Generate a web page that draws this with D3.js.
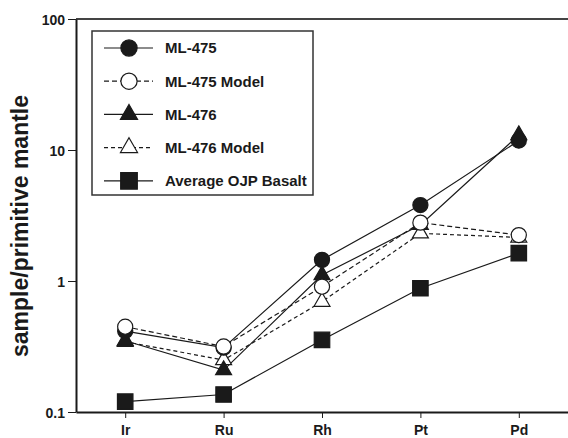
<!DOCTYPE html>
<html>
<head>
<meta charset="utf-8">
<script src="https://cdn.jsdelivr.net/npm/d3@7"></script>
<style>
  body { margin: 0; background: #fff; }
  text { font-family: "Liberation Sans", Arial, Helvetica, sans-serif; font-weight: bold; fill: #1a1a1a; }
</style>
</head>
<body>
<svg id="chart" width="568" height="438"></svg>
<script>
// elements (x categories)
var elements = ["Ir", "Ru", "Rh", "Pt", "Pd"];
// sample / primitive mantle values
var ml475      = [0.415, 0.31, 1.45, 3.8, 11.8];
var ml475Model = [0.448, 0.316, 0.905, 2.79, 2.24];
var ml476      = [0.35, 0.209, 1.11, 2.68, 13.0];
var ml476Model = [0.344, 0.249, 0.695, 2.31, 2.15];
var ojpBasalt  = [0.12, 0.136, 0.355, 0.88, 1.63];
var yTicks = [0.1, 1, 10, 100];

var series = [
    {name: "ML-475", values: ml475, shape: d3.symbolCircle, size: 180, fill: "#1a1a1a", dash: null},
    {name: "ML-475 Model", values: ml475Model, shape: d3.symbolCircle, size: 180, fill: "#fff", dash: "5,3"},
    {name: "ML-476", values: ml476, shape: d3.symbolTriangle, size: 110, fill: "#1a1a1a", dash: null},
    {name: "ML-476 Model", values: ml476Model, shape: d3.symbolTriangle, size: 110, fill: "#fff", dash: "4,3"},
    {name: "Average OJP Basalt", values: ojpBasalt, shape: d3.symbolSquare, size: 240, fill: "#1a1a1a", dash: null}
];
// drawing order of the marks (open circles end on top)
var drawOrder = [4, 3, 2, 0, 1];

var svg = d3.select("#chart");
var pLeft = 76, pRight = 568, pTop = 19, pBottom = 412;

var x = d3.scalePoint().domain(elements).range([pLeft, pRight]).padding(0.5);
var y = d3.scaleLog().domain([0.1, 100]).range([pBottom, pTop]);

// top frame line
svg.append("line")
    .attr("x1", pLeft).attr("x2", pRight)
    .attr("y1", pTop).attr("y2", pTop)
    .style("stroke", "#444").style("stroke-width", 2);

// axes
var yAxis = svg.append("g")
    .attr("transform", "translate(" + pLeft + ",0)")
    .call(d3.axisLeft(y).tickValues(yTicks).tickSize(8).tickSizeOuter(0)
          .tickFormat(function(d) { return d < 1 ? "0.1" : d3.format("d")(d); }));
var xAxis = svg.append("g")
    .attr("transform", "translate(0," + pBottom + ")")
    .call(d3.axisBottom(x).tickSize(6).tickSizeOuter(0));

[yAxis, xAxis].forEach(function(a) {
    a.attr("font-family", null).attr("font-size", null);
    a.select(".domain").style("stroke", "#1a1a1a").style("stroke-width", 2);
    a.selectAll(".tick line").style("stroke", "#1a1a1a").style("stroke-width", 1);
    a.selectAll(".tick text").style("font-size", "14px").attr("fill", "#1a1a1a");
});
yAxis.selectAll(".tick text").attr("x", -11).attr("dy", "0.36em");
xAxis.selectAll(".tick text").attr("y", 13).attr("dy", "0.71em");

// y title
svg.append("text")
    .attr("transform", "translate(28,226) rotate(-90)")
    .attr("text-anchor", "middle")
    .style("font-size", "23px")
    .text("sample/primitive mantle");

var line = d3.line()
    .x(function(d, i) { return x(elements[i]); })
    .y(function(d) { return y(d); });

// lines
drawOrder.forEach(function(k) {
    var s = series[k];
    svg.append("path")
        .datum(s.values)
        .attr("d", line)
        .style("fill", "none")
        .style("stroke", "#1a1a1a")
        .style("stroke-width", 1.2)
        .style("stroke-dasharray", s.dash);
});

// markers
drawOrder.forEach(function(k) {
    var s = series[k];
    svg.append("g").selectAll("path")
        .data(s.values)
        .enter().append("path")
        .attr("transform", function(d, i) { return "translate(" + x(elements[i]) + "," + y(d) + ")"; })
        .attr("d", d3.symbol().type(s.shape).size(s.size))
        .style("fill", s.fill)
        .style("stroke", "#1a1a1a")
        .style("stroke-width", 1.2);
});

// legend
var lg = svg.append("g");
lg.append("rect")
    .attr("x", 92).attr("y", 31)
    .attr("width", 221).attr("height", 164)
    .style("fill", "#fff")
    .style("stroke", "#333")
    .style("stroke-width", 1.5);

var rows = lg.selectAll("g.row")
    .data(series)
    .enter().append("g")
    .attr("class", "row")
    .attr("transform", function(d, i) { return "translate(0," + (48 + i * 33.2) + ")"; });

rows.append("line")
    .attr("x1", 104).attr("x2", 153)
    .style("stroke", "#1a1a1a")
    .style("stroke-width", 1.2)
    .style("stroke-dasharray", function(d) { return d.dash; });

rows.append("path")
    .attr("transform", "translate(129,0)")
    .attr("d", function(d) { return d3.symbol().type(d.shape).size(d.size * 1.15)(); })
    .style("fill", function(d) { return d.fill; })
    .style("stroke", "#1a1a1a")
    .style("stroke-width", 1.2);

rows.append("text")
    .attr("x", 165)
    .attr("dy", "0.36em")
    .style("font-size", "15px")
    .text(function(d) { return d.name; });
</script>
</body>
</html>
